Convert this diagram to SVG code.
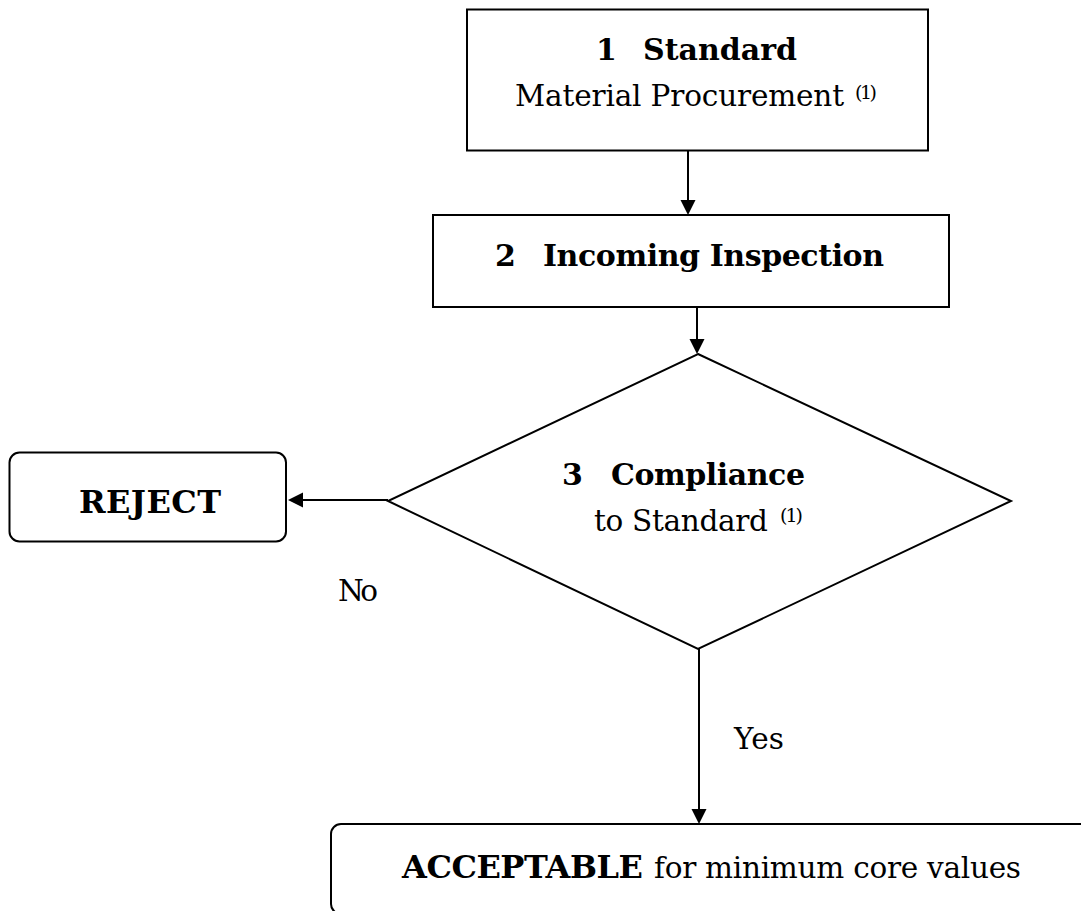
<svg xmlns="http://www.w3.org/2000/svg" width="1081" height="911" viewBox="0 0 1081 911">
<style>
.box{fill:#fff;stroke:#000;stroke-width:2}
.con{stroke:#000;stroke-width:2;fill:none}
text{font-family:"DejaVu Serif","Liberation Serif",serif;font-size:29.5px;fill:#000}
.b{font-weight:bold;font-size:30px}
.bc{font-weight:bold;font-size:32px}
.sup{font-size:19px}
</style>
<defs>
<marker id="arr" markerUnits="userSpaceOnUse" markerWidth="16" markerHeight="16" refX="7" refY="7.5" orient="auto">
<path d="M0,0 L15,7.5 L0,15 z" fill="#000"/>
</marker>
</defs>
<rect width="1081" height="911" fill="#fff"/>
<g id="node1">
<rect class="box" x="467" y="9.5" width="461" height="141"/>
<text class="b" x="596" y="60">1</text>
<text class="b" x="643" y="60" textLength="154">Standard</text>
<text x="515" y="106" textLength="329">Material Procurement</text>
<text class="sup" x="855" y="99" textLength="22">(1)</text>
</g>
<g id="node2">
<rect class="box" x="433" y="215" width="516" height="92"/>
<text class="b" x="495" y="266">2</text>
<text class="b" x="543" y="266" textLength="341">Incoming Inspection</text>
</g>
<g id="node3">
<polygon class="box" points="698,354 1011,501 698,649 388,501"/>
<text class="b" x="562" y="485">3</text>
<text class="b" x="611" y="485" textLength="194">Compliance</text>
<text x="594" y="531" textLength="174">to Standard</text>
<text class="sup" x="780" y="522" textLength="23">(1)</text>
</g>
<g id="reject">
<rect class="box" x="9.5" y="452.5" width="276.5" height="89" rx="10" ry="10"/>
<text class="bc" x="79" y="513" textLength="142">REJECT</text>
</g>
<g id="accept">
<rect class="box" x="331" y="824" width="800" height="90" rx="10" ry="10"/>
<text class="bc" x="402" y="878" textLength="241">ACCEPTABLE</text>
<text x="654" y="878" textLength="367">for minimum core values</text>
</g>
<g id="connectors">
<line class="con" x1="688" y1="150" x2="688" y2="207" marker-end="url(#arr)"/>
<line class="con" x1="697" y1="307" x2="697" y2="346" marker-end="url(#arr)"/>
<line class="con" x1="388" y1="500" x2="296" y2="500" marker-end="url(#arr)"/>
<line class="con" x1="699" y1="649" x2="699" y2="816" marker-end="url(#arr)"/>
<text x="338" y="601" textLength="40">No</text>
<text x="734" y="749" textLength="50">Yes</text>
</g>
</svg>
